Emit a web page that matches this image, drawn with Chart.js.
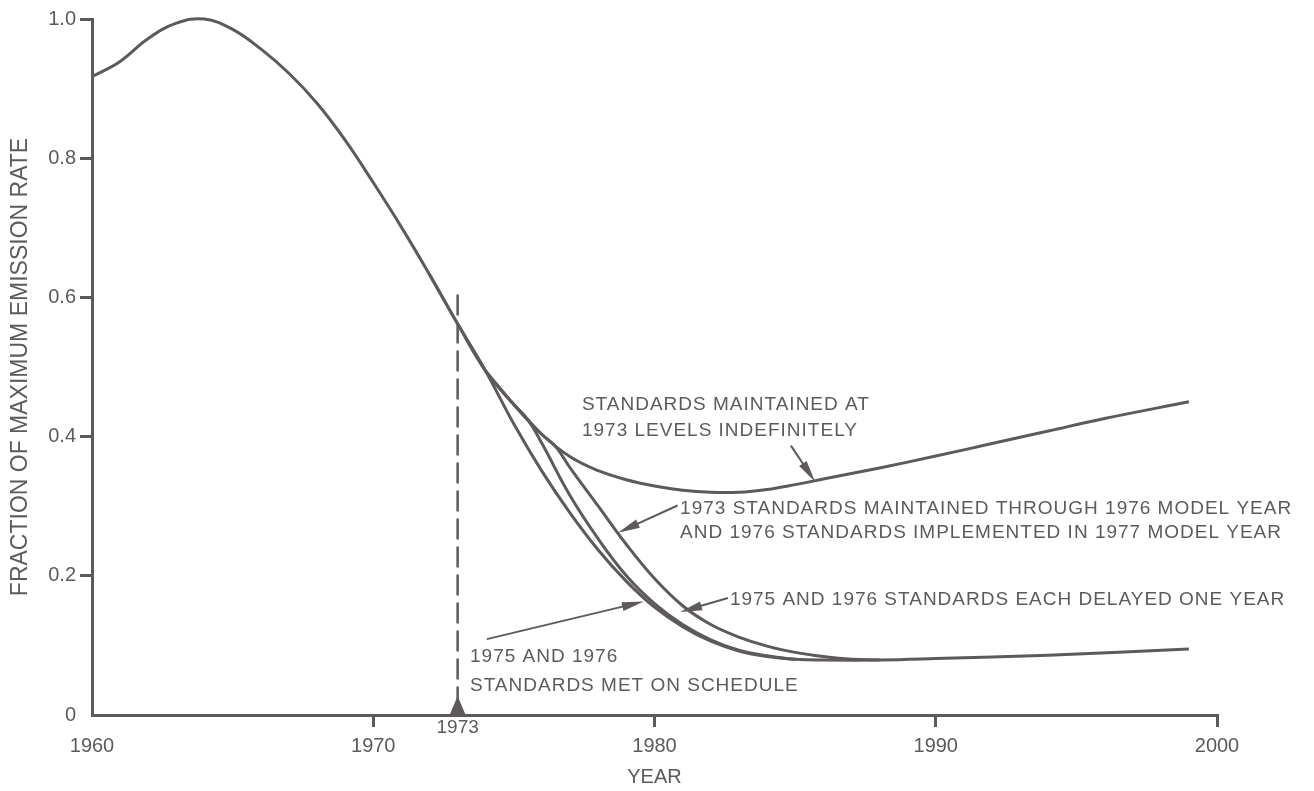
<!DOCTYPE html>
<html lang="en">
<head>
<meta charset="UTF-8">
<title>Fraction of maximum emission rate</title>
<script src="https://cdn.jsdelivr.net/npm/chart.js"></script>
<style>
  body { margin: 0; background: #fff; }
  canvas { display: block; }
</style>
</head>
<body>
<canvas id="grafico" width="1314" height="791"></canvas>
<script>
// values (year, fraction of max emission rate)
const mainYears = [1960, 1961, 1962, 1963, 1964, 1965, 1966, 1967, 1968, 1969, 1970, 1971, 1972, 1973, 1974, 1975, 1976, 1977, 1978, 1979, 1980, 1981, 1982, 1983, 1984, 1985, 1986, 1988, 1990, 1992, 1994, 1996, 1999];
const mainValues = [0.917, 0.939, 0.972, 0.994, 1.0, 0.985, 0.957, 0.922, 0.879, 0.826, 0.765, 0.701, 0.633, 0.562, 0.494, 0.446, 0.403, 0.371, 0.351, 0.338, 0.329, 0.323, 0.320, 0.320, 0.324, 0.331, 0.339, 0.355, 0.372, 0.390, 0.408, 0.426, 0.450];

const onScheduleYears = [1972, 1973, 1974, 1975, 1976, 1977, 1978, 1979, 1980, 1981, 1982, 1983, 1984, 1985, 1986, 1988, 1990, 1994, 1999];
const onScheduleValues = [0.633, 0.562, 0.494, 0.418, 0.350, 0.290, 0.237, 0.192, 0.155, 0.127, 0.106, 0.092, 0.084, 0.080, 0.079, 0.079, 0.081, 0.086, 0.095];

const delayedYears = [1974, 1975, 1975.5, 1976, 1977, 1978, 1979, 1980, 1981, 1982, 1983, 1984, 1985];
const delayedValues = [0.494, 0.446, 0.424, 0.390, 0.315, 0.253, 0.200, 0.160, 0.130, 0.108, 0.093, 0.085, 0.080];

const through1976Years = [1975, 1976, 1976.5, 1977, 1978, 1979, 1980, 1981, 1982, 1983, 1984, 1985, 1986, 1987, 1988];
const through1976Values = [0.446, 0.403, 0.385, 0.355, 0.300, 0.245, 0.196, 0.157, 0.130, 0.112, 0.099, 0.090, 0.084, 0.080, 0.079];

const xTicks = [1960, 1970, 1980, 1990, 2000];
const yTicks = [0, 0.2, 0.4, 0.6, 0.8, 1.0];
const yTickLabels = ['0', '0.2', '0.4', '0.6', '0.8', '1.0'];

const ink = '#5e595a';
const fontFamily = '"Liberation Sans", Arial, sans-serif';

function pontos(anos, valores) {
    return anos.map((ano, i) => ({ x: ano, y: valores[i] }));
}

function serie(label, anos, valores) {
    return {
        label: label,
        data: pontos(anos, valores),
        borderColor: ink,
        borderWidth: 3,
        pointRadius: 0,
        fill: false,
        tension: 0.4,
        clip: false
    };
}

function seta(ctx, x1, y1, x2, y2) {
    const a = Math.atan2(y2 - y1, x2 - x1);
    const len = 22, w = 4.5;
    ctx.lineWidth = 2;
    ctx.beginPath();
    ctx.moveTo(x1, y1);
    ctx.lineTo(x2 - Math.cos(a) * len * 0.8, y2 - Math.sin(a) * len * 0.8);
    ctx.stroke();
    ctx.beginPath();
    ctx.moveTo(x2, y2);
    ctx.lineTo(x2 - Math.cos(a) * len + Math.sin(a) * w, y2 - Math.sin(a) * len - Math.cos(a) * w);
    ctx.lineTo(x2 - Math.cos(a) * len - Math.sin(a) * w, y2 - Math.sin(a) * len + Math.cos(a) * w);
    ctx.closePath();
    ctx.fill();
}

// notes: text lines placed in data space, arrow from -> to
const notas = [
    { linhas: ['STANDARDS MAINTAINED AT', '1973 LEVELS INDEFINITELY'], x: 1977.42, y: [0.4388, 0.4014], de: [1984.85, 0.387], para: [1985.71, 0.335] },
    { linhas: ['1973 STANDARDS MAINTAINED THROUGH 1976 MODEL YEAR', 'AND 1976 STANDARDS IMPLEMENTED IN 1977 MODEL YEAR'], x: 1980.91, y: [0.2892, 0.2547], de: [1980.82, 0.301], para: [1978.70, 0.262] },
    { linhas: ['1975 AND 1976 STANDARDS EACH DELAYED ONE YEAR'], x: 1982.68, y: [0.1583], de: [1982.61, 0.168], para: [1980.91, 0.148] },
    { linhas: ['1975 AND 1976', 'STANDARDS MET ON SCHEDULE'], x: 1973.44, y: [0.0763, 0.0345], de: [1974.04, 0.109], para: [1979.62, 0.163] }
];

const pluginNotas = {
    id: 'notas',
    afterDraw(chart) {
        const ctx = chart.ctx;
        const xs = chart.scales.x, ys = chart.scales.y;
        const px = v => xs.getPixelForValue(v);
        const py = v => ys.getPixelForValue(v);
        ctx.save();
        ctx.strokeStyle = ink;
        ctx.fillStyle = ink;

        // dashed marker at 1973
        ctx.lineWidth = 2.5;
        ctx.setLineDash([21, 7]);
        ctx.beginPath();
        ctx.moveTo(px(1973), py(0.604));
        ctx.lineTo(px(1973), py(0));
        ctx.stroke();
        ctx.setLineDash([]);

        ctx.beginPath();
        ctx.moveTo(px(1973) - 8, py(0));
        ctx.lineTo(px(1973) + 8, py(0));
        ctx.lineTo(px(1973), py(0) - 19);
        ctx.closePath();
        ctx.fill();

        ctx.font = '19px ' + fontFamily;
        ctx.textAlign = 'center';
        ctx.textBaseline = 'middle';
        ctx.fillText('1973', px(1973), py(0) + 13);

        ctx.textAlign = 'left';
        ctx.textBaseline = 'alphabetic';
        ctx.letterSpacing = '1px';
        notas.forEach(n => {
            n.linhas.forEach((t, i) => ctx.fillText(t, px(n.x), py(n.y[i])));
        });
        ctx.letterSpacing = '0px';
        notas.forEach(n => {
            seta(ctx, px(n.de[0]), py(n.de[1]), px(n.para[0]), py(n.para[1]));
        });
        ctx.restore();
    }
};

const config = {
    type: 'line',
    data: {
        datasets: [
            serie('Standards maintained at 1973 levels indefinitely', mainYears, mainValues),
            serie('1975 and 1976 standards met on schedule', onScheduleYears, onScheduleValues),
            serie('1975 and 1976 standards each delayed one year', delayedYears, delayedValues),
            serie('1973 standards maintained through 1976 model year', through1976Years, through1976Values)
        ]
    },
    options: {
        responsive: false,
        animation: false,
        elements: { line: { capBezierPoints: false } },
        layout: { padding: { top: 19, right: 97, left: 0, bottom: 0 } },
        plugins: {
            legend: { display: false },
            tooltip: { enabled: false }
        },
        scales: {
            x: {
                type: 'linear',
                min: 1960,
                max: 2000,
                afterBuildTicks: scale => { scale.ticks = xTicks.map(v => ({ value: v })); },
                afterFit: scale => { scale.height = 76; },
                ticks: {
                    color: ink,
                    font: { family: fontFamily, size: 20 },
                    padding: 7,
                    maxRotation: 0,
                    autoSkip: false,
                    callback: v => String(v)
                },
                grid: {
                    drawOnChartArea: false,
                    tickLength: 12,
                    lineWidth: 3,
                    color: c => (c.tick && c.tick.value === 1960) ? 'rgba(0,0,0,0)' : ink
                },
                border: { color: ink, width: 3 },
                title: {
                    display: true,
                    text: 'YEAR',
                    color: ink,
                    font: { family: fontFamily, size: 20 },
                    padding: { top: 0, bottom: 2 }
                }
            },
            y: {
                min: 0,
                max: 1,
                afterBuildTicks: scale => { scale.ticks = yTicks.map(v => ({ value: v })); },
                afterFit: scale => { scale.width = 92; },
                ticks: {
                    color: ink,
                    font: { family: fontFamily, size: 20 },
                    padding: 4,
                    callback: v => yTickLabels[yTicks.indexOf(v)]
                },
                grid: {
                    drawOnChartArea: false,
                    tickLength: 12,
                    lineWidth: 3,
                    color: c => (c.tick && c.tick.value === 0) ? 'rgba(0,0,0,0)' : ink
                },
                border: { color: ink, width: 3 },
                title: {
                    display: true,
                    text: 'FRACTION OF MAXIMUM EMISSION RATE',
                    color: ink,
                    font: { family: fontFamily, size: 23 },
                    padding: { top: 7, bottom: 0 }
                }
            }
        }
    },
    plugins: [pluginNotas]
};

new Chart(document.getElementById('grafico'), config);
</script>
</body>
</html>
